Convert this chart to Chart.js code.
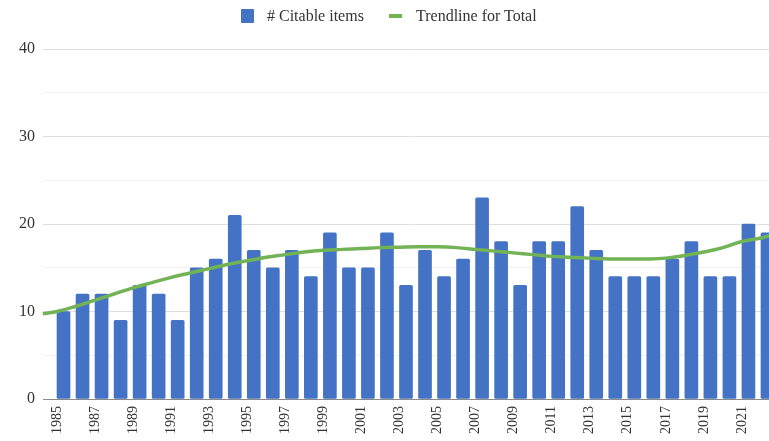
<!DOCTYPE html>
<html>
<head>
<meta charset="utf-8">
<script src="https://cdn.jsdelivr.net/npm/chart.js@4"></script>
<style>
  html, body { margin: 0; padding: 0; background: #fff; overflow: hidden; }
  #wrap { position: relative; width: 772px; height: 470px; }
  #legend span {
    position: absolute;
    font-family: 'Liberation Serif', 'DejaVu Serif', serif; font-size: 16px; line-height: 16px; color: #333;
    white-space: nowrap;
  }
  #legend .box { left: 241px; top: 9px; width: 13px; height: 14px; background: #4472c4; border-radius: 1px; }
  #legend .ln { left: 389px; top: 14px; width: 13px; height: 4px; background: #72b356; }
</style>
</head>
<body>
<div id="wrap">
  <div id="legend">
    <span class="box"></span><span style="left:267px;top:8px"># Citable items</span>
    <span class="ln"></span><span style="left:416px;top:8px">Trendline for Total</span>
  </div>
  <canvas id="c" width="772" height="470"></canvas>
</div>
<script>
// ── Data ────────────────────────────────────────────
const years = [1985, 1986, 1987, 1988, 1989, 1990, 1991, 1992, 1993, 1994,
  1995, 1996, 1997, 1998, 1999, 2000, 2001, 2002, 2003, 2004,
  2005, 2006, 2007, 2008, 2009, 2010, 2011, 2012, 2013, 2014,
  2015, 2016, 2017, 2018, 2019, 2020, 2021, 2022];
const citableItems = [10, 12, 12, 9, 13, 12, 9, 15, 16, 21,
  17, 15, 17, 14, 19, 15, 15, 19, 13, 17,
  14, 16, 23, 18, 13, 18, 18, 22, 17, 14,
  14, 14, 16, 18, 14, 14, 20, 19];
// trendline, incl. the plot edges
const trendYears = [1984.25, 1985, 1986, 1987, 1988, 1989, 1990, 1991, 1992, 1993, 1994,
  1995, 1996, 1997, 1998, 1999, 2000, 2001, 2002, 2003, 2004,
  2005, 2006, 2007, 2008, 2009, 2010, 2011, 2012, 2013, 2014,
  2015, 2016, 2017, 2018, 2019, 2020, 2021, 2022, 2022.5];
const trendValues = [9.75, 10.0, 10.6, 11.3, 12.0, 12.7, 13.3, 13.9, 14.4, 14.9, 15.4,
  15.8, 16.2, 16.5, 16.8, 17.0, 17.1, 17.2, 17.3, 17.35, 17.4,
  17.4, 17.3, 17.1, 16.9, 16.7, 16.5, 16.3, 16.2, 16.1, 16.0,
  16.0, 16.0, 16.1, 16.4, 16.8, 17.3, 18.0, 18.4, 18.7];

const SERIF = "'Liberation Serif', 'DejaVu Serif', serif";

new Chart(document.getElementById('c'), {
  data: {
    labels: years.map(String),
    datasets: [
      {
        type: 'line',
        label: 'Trendline for Total',
        data: trendYears.map((x, i) => ({ x, y: trendValues[i] })),
        xAxisID: 'xt',
        borderColor: '#72b356',
        borderWidth: 3.5,
        pointRadius: 0,
        tension: 0.4,
        fill: false,
        clip: false,
      },
      {
        type: 'bar',
        label: '# Citable items',
        data: citableItems,
        xAxisID: 'x',
        backgroundColor: '#4472c4',
        borderRadius: 1.5,
        borderSkipped: false,
        barThickness: 13,
      },
    ],
  },
  options: {
    responsive: false,
    animation: false,
    layout: { padding: { top: 49, right: 1.5, left: 0, bottom: 0 } },
    plugins: { legend: { display: false }, tooltip: { enabled: false } },
    scales: {
      x: {
        type: 'category',
        offset: true,
        grid: { display: false, drawTicks: false },
        border: { display: false },
        ticks: {
          autoSkip: false,
          maxRotation: 90, minRotation: 90,
          padding: 7,
          color: '#333',
          font: { family: SERIF, size: 14 },
          callback: (v, i) => (i % 2 === 0 ? years[i] : ''),
        },
        afterFit: s => {
          s.height = 470 - 399;
          s.paddingLeft = 0;
          s.paddingRight = 0;
        },
      },
      xt: {
        type: 'linear',
        display: false,
        min: 1984.5,
        max: 2022.5,
      },
      y: {
        min: 0, max: 40,
        grid: {
          drawTicks: true,
          tickLength: 4.5,
          color: ctx => (ctx.tick.value === 0 ? '#8a8a8a' : ctx.tick.value % 10 === 0 ? '#dedede' : '#f1f1f1'),
          lineWidth: 1,
          z: 0,
        },
        border: { display: false },
        ticks: {
          stepSize: 5,
          padding: 8,
          color: '#333',
          font: { family: SERIF, size: 16 },
          callback: v => (v % 10 === 0 ? v : ''),
        },
        afterFit: s => { s.width = 47.5; },
      },
    },
  },
});
</script>
</body>
</html>
